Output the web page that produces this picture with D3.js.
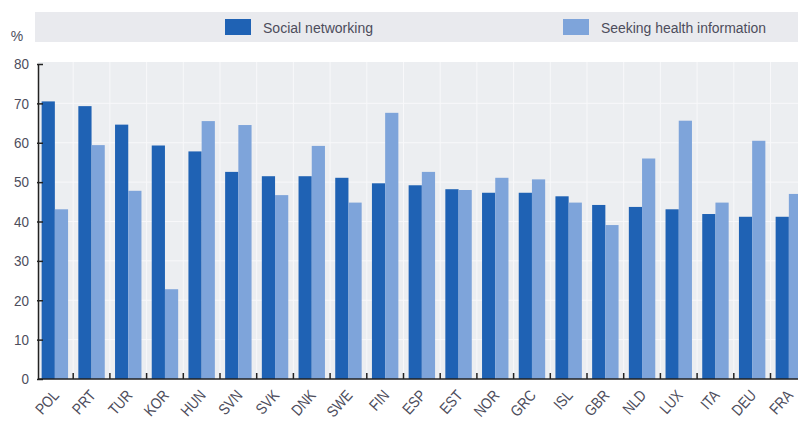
<!DOCTYPE html>
<html><head><meta charset="utf-8">
<script src="https://cdn.jsdelivr.net/npm/d3@7"></script>
<style>body{margin:0;background:#fff;}svg{display:block;}</style>
</head><body><div id="chart"></div>
<script>
const categories = ["POL","PRT","TUR","KOR","HUN","SVN","SVK","DNK","SWE","FIN","ESP","EST","NOR","GRC","ISL","GBR","NLD","LUX","ITA","DEU","FRA"];
const socialNetworking = [70.5,69.3,64.6,59.3,57.8,52.6,51.5,51.5,51.1,49.7,49.2,48.2,47.3,47.3,46.4,44.2,43.7,43.1,41.9,41.2,41.2];
const seekingHealth = [43.1,59.4,47.8,22.8,65.5,64.5,46.7,59.2,44.8,67.6,52.6,48.0,51.1,50.7,44.8,39.1,56.0,65.6,44.8,60.5,47.0];
const seriesNames = ["Social networking","Seeking health information"];
const yTicks = [0,10,20,30,40,50,60,70,80];

const W = 798, H = 425;
const colors = ["#1f62b4","#7ea4da"];
const font = "'Liberation Sans',Arial,sans-serif";
const textCol = "#4d4d5c";

const svg = d3.select("#chart").append("svg").attr("width", W).attr("height", H);

const x0 = 38, plotTop = 62, plotBottom = 379;
const x = d3.scaleBand().domain(categories).range([36.5, 36.5 + 36.7*categories.length]).paddingInner(0.28).paddingOuter(0.14);
const x1 = d3.scaleBand().domain(seriesNames).range([0, x.bandwidth()]);
const y = d3.scaleLinear().domain([0,80]).range([plotBottom, 64]);

// legend band
svg.append("rect").attr("x", 35).attr("y", 12).attr("width", W-35).attr("height", 30).attr("fill", "#e9eaee");
const legX = [225, 563];
const legLen = [110, 165];
seriesNames.forEach((s,i)=>{
  svg.append("rect").attr("x", legX[i]).attr("y", 19).attr("width", 26).attr("height", 16).attr("fill", colors[i]);
  svg.append("text").attr("x", legX[i]+38).attr("y", 33).text(s)
    .attr("textLength", legLen[i]).attr("lengthAdjust", "spacingAndGlyphs")
    .attr("font-family", font).attr("font-size", 15.5).attr("fill", textCol);
});

// plot background
svg.append("rect").attr("x", x0).attr("y", plotTop).attr("width", W-x0).attr("height", plotBottom-plotTop).attr("fill", "#eceef1");
// white grid
svg.append("g").selectAll("line").data(yTicks.slice(1,-1)).join("line")
  .attr("x1", x0).attr("x2", W).attr("y1", d=>y(d)).attr("y2", d=>y(d))
  .attr("stroke", "#f8f8fa").attr("stroke-width", 1);
svg.append("g").selectAll("line").data(categories.slice(1)).join("line")
  .attr("x1", d=>x(d)-x.step()*x.paddingInner()/2).attr("x2", d=>x(d)-x.step()*x.paddingInner()/2)
  .attr("y1", plotTop).attr("y2", plotBottom)
  .attr("stroke", "#f8f8fa").attr("stroke-width", 1);

// bars
const data = categories.map((c,i)=>({c, vals:[socialNetworking[i], seekingHealth[i]]}));
const g = svg.append("g").selectAll("g").data(data).join("g").attr("transform", d=>`translate(${x(d.c)},0)`);
g.selectAll("rect").data(d=>d.vals.map((v,i)=>({v, s:seriesNames[i], i}))).join("rect")
  .attr("x", d=>x1(d.s)).attr("width", x1.bandwidth())
  .attr("y", d=>y(d.v)).attr("height", d=>plotBottom - y(d.v))
  .attr("fill", d=>colors[d.i]);

// y axis
const yAxis = d3.axisLeft(y).tickValues(yTicks).tickSize(0).tickPadding(10);
const ya = svg.append("g").attr("transform", `translate(${x0},0)`).call(yAxis);
ya.select(".domain").attr("stroke", "#222").attr("stroke-width", 1.5);
ya.selectAll(".tick text").attr("font-family", font).attr("font-size", 15).attr("fill", textCol)
  .attr("transform", "scale(0.9,1)");
ya.selectAll(".tick").append("line").attr("x1", -1).attr("x2", 5).attr("stroke", "#222").attr("stroke-width", 1.5);
svg.append("text").attr("x", 17).attr("y", 41).attr("text-anchor", "middle").text("%")
  .attr("font-family", font).attr("font-size", 14).attr("fill", textCol);

// x axis
const xAxis = d3.axisBottom(x).tickSize(0).tickPadding(0);
const xa = svg.append("g").attr("transform", `translate(0,${plotBottom})`).call(xAxis);
xa.select(".domain").attr("d", `M${x0},0H${W}`).attr("stroke", "#222").attr("stroke-width", 1.5);
xa.selectAll(".tick text")
  .attr("font-family", font).attr("font-size", 15.5).attr("fill", textCol)
  .attr("text-anchor", "end").attr("dy", null)
  .attr("transform", `translate(5,17) rotate(-48) scale(0.85,1)`)
  .attr("y", 0).attr("x", 0);
// separator ticks
svg.append("g").selectAll("line").data(categories.slice(1)).join("line")
  .attr("x1", d=>x(d)-x.step()*x.paddingInner()/2).attr("x2", d=>x(d)-x.step()*x.paddingInner()/2)
  .attr("y1", plotBottom-6).attr("y2", plotBottom)
  .attr("stroke", "#222").attr("stroke-width", 1.5);
</script></body></html>
